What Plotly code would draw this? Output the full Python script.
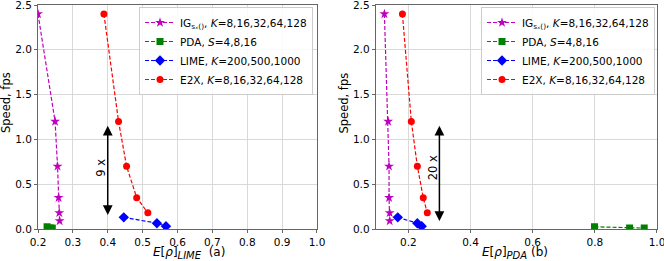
import plotly.graph_objects as go

speed_ig = [2.4, 1.2, 0.7, 0.35, 0.18, 0.09]
speed_pda = [0.025, 0.012, 0.01]
speed_lime = [0.13, 0.065, 0.03]
speed_e2x = [2.4, 1.2, 0.7, 0.35, 0.18]

lime_ig = [0.2, 0.249, 0.256, 0.259, 0.261, 0.262]
lime_pda = [0.226, 0.235, 0.241]
lime_lime = [0.446, 0.541, 0.567]
lime_e2x = [0.389, 0.431, 0.454, 0.483, 0.515]

pda_ig = [0.123, 0.135, 0.138, 0.138, 0.14, 0.14]
pda_pda = [0.799, 0.912, 0.959]
pda_lime = [0.166, 0.229, 0.243]
pda_e2x = [0.181, 0.2096, 0.229, 0.248, 0.261]

names = ["IG<sub>sₓ()</sub>, <i>K</i>=8,16,32,64,128",
         "PDA, <i>S</i>=4,8,16",
         "LIME, <i>K</i>=200,500,1000",
         "E2X, <i>K</i>=8,16,32,64,128"]
colors = ["#bf00bf", "#008000", "#0000ff", "#ff0000"]
symbols = ["star", "square", "diamond", "circle"]
sizes = [7.5, 7, 8, 7]

FONT = "DejaVu Sans"
fig = go.Figure()

left = [(lime_ig, speed_ig), (lime_pda, speed_pda), (lime_lime, speed_lime), (lime_e2x, speed_e2x)]
right = [(pda_ig, speed_ig), (pda_pda, speed_pda), (pda_lime, speed_lime), (pda_e2x, speed_e2x)]

for i, (xs, ys) in enumerate(left):
    fig.add_trace(go.Scatter(x=xs, y=ys, mode="lines+markers", name=names[i],
                             line=dict(color=colors[i], width=1.2, dash="4px,2px"),
                             marker=dict(symbol=symbols[i], size=sizes[i], color=colors[i]),
                             xaxis="x", yaxis="y", legend="legend"))
for i, (xs, ys) in enumerate(right):
    fig.add_trace(go.Scatter(x=xs, y=ys, mode="lines+markers", name=names[i],
                             line=dict(color=colors[i], width=1.2, dash="4px,2px"),
                             marker=dict(symbol=symbols[i], size=sizes[i], color=colors[i]),
                             xaxis="x2", yaxis="y2", legend="legend2"))

axis_common = dict(showgrid=True, gridcolor="#d9d9d9", gridwidth=1, showline=True,
                   linecolor="#666", linewidth=1, mirror=True, ticks="outside",
                   ticklen=3, tickcolor="#666", zeroline=False, automargin=False,
                   ticklabeloverflow="allow",
                   tickfont=dict(family=FONT, size=10.5, color="black"))

SHIFT = 4
W, H = 672, 268
L, R, T, B = 38, 15, 5 + SHIFT, H - (229 + SHIFT)
PW, PH = W - L - R, H - T - B


def px(x):
    return (x - L) / PW


def py(y):
    return (H - B - (y + SHIFT)) / PH


fig.update_layout(
    template="none",
    width=W, height=H, margin=dict(l=L, r=R, t=T, b=B, pad=0),
    plot_bgcolor="white", paper_bgcolor="white",
    font=dict(family=FONT, size=10.5, color="black"),
    xaxis=dict(domain=[0, px(317)], range=[0.2, 1.0001], dtick=0.1, tickformat=".1f", anchor="y", **axis_common),
    yaxis=dict(domain=[0, 1], range=[0, 2.5001], dtick=0.5, tickformat=".1f", anchor="x", **axis_common),
    xaxis2=dict(domain=[px(375.7), 1], range=[0.095, 1.0001], tick0=0.2, dtick=0.2, tickformat=".1f", anchor="y2", **axis_common),
    yaxis2=dict(domain=[0, 1], range=[0, 2.5001], dtick=0.5, tickformat=".1f", anchor="x2", **axis_common),
    legend=dict(x=px(313), y=py(7), xanchor="right", yanchor="top",
                bgcolor="rgba(255,255,255,0.85)", bordercolor="#cccccc", borderwidth=1,
                font=dict(family=FONT, size=10.5), tracegroupgap=0),
    legend2=dict(x=px(655), y=py(7), xanchor="right", yanchor="top",
                 bgcolor="rgba(255,255,255,0.85)", bordercolor="#cccccc", borderwidth=1,
                 font=dict(family=FONT, size=10.5), tracegroupgap=0),
    showlegend=True,
)

# arrows
fig.add_annotation(x=0.4, y=0.156, ax=0.4, ay=1.17, xref="x", yref="y", axref="x", ayref="y",
                   showarrow=True, arrowhead=2, startarrowhead=2, arrowside="end+start",
                   arrowsize=1.3, startarrowsize=1.3, arrowwidth=1.5, arrowcolor="black", text="")
fig.add_annotation(x=0.3, y=0.09, ax=0.3, ay=1.17, xref="x2", yref="y2", axref="x2", ayref="y2",
                   showarrow=True, arrowhead=2, startarrowhead=2, arrowside="end+start",
                   arrowsize=1.3, startarrowsize=1.3, arrowwidth=1.5, arrowcolor="black", text="")
fig.add_annotation(x=0.38, y=0.68, xref="x", yref="y", text="9 x", textangle=-90,
                   showarrow=False, font=dict(family=FONT, size=11.5),
                   xanchor="center", yanchor="middle")
fig.add_annotation(x=0.28, y=0.68, xref="x2", yref="y2", text="20 x", textangle=-90,
                   showarrow=False, font=dict(family=FONT, size=11.5),
                   xanchor="center", yanchor="middle")

# axis titles
for xc, lab in [(189, "<i>E</i>[<i>ρ</i>]<sub><i><span style='font-size:10px'>LIME</span></i></sub>&nbsp; (a)"),
                (515, "<i>E</i>[<i>ρ</i>]<sub><i><span style='font-size:10px'>PDA</span></i></sub> (b)")]:
    fig.add_annotation(x=px(xc), y=py(253), xref="paper", yref="paper", text=lab,
                       showarrow=False, font=dict(family=FONT, size=12),
                       xanchor="center", yanchor="middle")
for xc in [6, 343.5]:
    fig.add_annotation(x=px(xc), y=py(103), xref="paper", yref="paper", text="Speed, fps",
                       textangle=-90, showarrow=False, font=dict(family=FONT, size=11.5),
                       xanchor="center", yanchor="middle")

fig.write_html("out.html", config={"displayModeBar": False},
               post_script=("document.documentElement.style.overflow='hidden';"
                            "document.body.style.margin='0';document.body.style.overflow='hidden';"
                            "document.getElementById('{plot_id}').style.marginTop='-%dpx';" % SHIFT))
